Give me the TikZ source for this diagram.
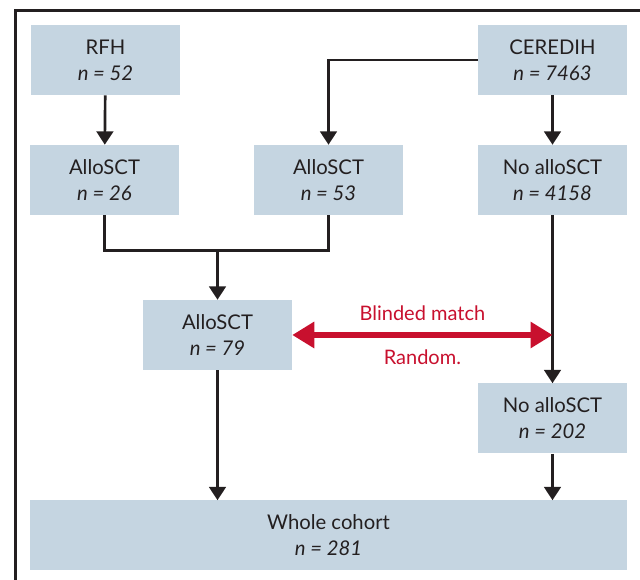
\documentclass[tikz,border=0pt]{standalone}
\usepackage{fontspec}
\setmainfont{Lato}
\usetikzlibrary{arrows.meta}

\definecolor{boxblue}{RGB}{197,213,225}
\definecolor{matchred}{RGB}{200,16,46}
\definecolor{ink}{RGB}{35,31,32}

\tikzset{
	cohort/.style={fill=boxblue, text=ink, align=center, inner sep=0pt,
		minimum width=111.75pt, minimum height=52.5pt,
		font=\fontsize{15.2}{19.5}\selectfont},
	flow/.style={-{Triangle[width=12.5pt,length=10pt]}, line width=2pt, ink},
	mergeline/.style={line width=2pt, ink},
	blinded/.style={{Triangle[width=19pt,length=16.5pt]}-{Triangle[width=19pt,length=16.5pt]},
		line width=3.9pt, matchred},
	matchlabel/.style={text=matchred, inner sep=0pt, font=\fontsize{15}{19}\selectfont}
}

\begin{document}
\begin{tikzpicture}[x=0.75pt, y=-0.75pt]
\useasboundingbox (0,0) rectangle (640,580);

% frame
\draw[line width=2pt, ink] (15.5,580) -- (15.5,10.5) -- (640,10.5);

% boxes
\node[cohort] (rfh)        at (105.5,60)  {RFH\\\textit{n = 52}};
\node[cohort] (ceredih)    at (552.5,60)  {CEREDIH\\\textit{n = 7463}};
\node[cohort] (allo26)     at (104.5,180) {AlloSCT\\\textit{n = 26}};
\node[cohort] (allo53)     at (328.5,180) {AlloSCT\\\textit{n = 53}};
\node[cohort] (noallo4158) at (552.5,180) {No alloSCT\\\textit{n = 4158}};
\node[cohort] (allo79)     at (217.5,335) {AlloSCT\\\textit{n = 79}};
\node[cohort] (noallo202)  at (552.5,418.5) {No alloSCT\\\textit{n = 202}};
\node[cohort, minimum width=447.75pt] (whole) at (328.5,535.5) {Whole cohort\\\textit{n = 281}};

\coordinate (merge) at (217.5,250.5);
\coordinate (match) at (noallo4158.south |- allo79.east);

% arrows
\draw[flow] (rfh) -- (allo26);
\draw[flow] (ceredih) -- (noallo4158);
\draw[flow] (ceredih.west) -| (allo53.north);
\draw[mergeline] (allo26.south) |- (merge) -| (allo53.south);
\draw[flow] (merge) -- (allo79.north);
\draw[flow] (noallo4158) -- (noallo202);
\draw[flow] (allo79.south) -- (allo79.south |- whole.north);
\draw[flow] (noallo202.south) -- (noallo202.south |- whole.north);

% matching
\draw[blinded] (allo79.east) -- (match)
	node[matchlabel, midway, above=8.5pt] (blind) {Blinded match}
	node[matchlabel, midway, below=9pt] (rand) {Random.};
\end{tikzpicture}
\end{document}
